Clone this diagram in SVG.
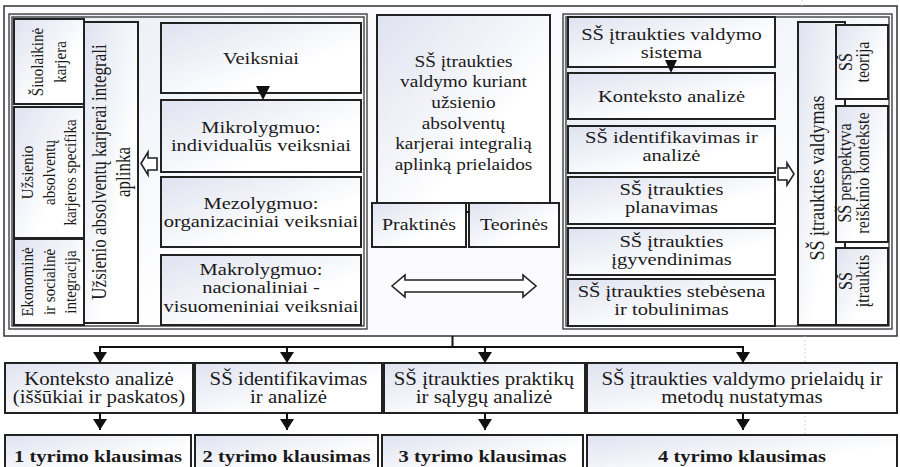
<svg xmlns="http://www.w3.org/2000/svg" width="900" height="467" viewBox="0 0 900 467">
<defs>
<linearGradient id="gb" x1="0" y1="0" x2="1" y2="1">
<stop offset="0" stop-color="#dfe2f0"/>
<stop offset="0.65" stop-color="#ffffff"/>
</linearGradient>
<linearGradient id="gp" x1="0" y1="0" x2="1" y2="1">
<stop offset="0" stop-color="#e9ebf5"/>
<stop offset="0.7" stop-color="#ffffff"/>
</linearGradient>
<marker id="ah" viewBox="0 0 11 14" refX="11" refY="7" markerWidth="11" markerHeight="14" markerUnits="userSpaceOnUse" orient="auto">
<path d="M0,0 L11,7 L0,14 z" fill="#111"/>
</marker>
</defs>
<style>
.box{fill:url(#gb);stroke:#222;stroke-width:2}
.pan{fill:url(#gp);stroke:#333;stroke-width:1.3}
.pin{fill:none;stroke:#333;stroke-width:1.3}
.frame{fill:#fbfbfd;stroke:#333;stroke-width:1.5}
text{font-family:"Liberation Serif","Times New Roman",serif;fill:#1a1a1a;text-anchor:middle}
.t{font-size:17.5px}
.tc{font-size:16.5px}
.tb{font-size:17.6px;font-weight:bold}
.tv{font-size:15px}
.tvs{font-size:16px}
.tvl{font-size:17px}
.tvr{font-size:18px}
.con{fill:none;stroke:#111;stroke-width:2}
.tri{fill:#111}
.hol{fill:#fff;stroke:#222;stroke-width:1.6;stroke-linejoin:miter}
</style>

<rect class="frame" x="4" y="6" width="893" height="330"/>
<g id="guide"><path d="M805,336 V435 M802,0 V6" stroke="#d6d6d6" stroke-width="1" stroke-dasharray="2 2" fill="none"/></g>

<g id="left-panel">
<rect class="pan" x="9" y="14" width="358" height="315"/>
<rect class="pin" x="12" y="17" width="352" height="309"/>
</g>
<g id="right-panel">
<rect class="pan" x="563" y="14" width="329" height="315"/>
<rect class="pin" x="566" y="17" width="323" height="309"/>
</g>

<g id="n-aplinka">
<rect class="box" x="84" y="22" width="54" height="301"/>
<text class="tvl" transform="translate(106,172) scale(1.17,1) rotate(-90)">Užsienio absolventų karjerai integrali</text>
<text class="tvl" transform="translate(130,172) scale(1.17,1) rotate(-90)">aplinka</text>
</g>
<g id="n-siuolaikine">
<rect class="box" x="14" y="19" width="70" height="85"/>
<text class="tv" transform="translate(43,62) scale(1.17,1) rotate(-90)">Šiuolaikinė</text>
<text class="tv" transform="translate(66,62) scale(1.17,1) rotate(-90)">karjera</text>
</g>
<g id="n-specifika">
<rect class="box" x="14" y="107" width="70" height="131"/>
<text class="tv" transform="translate(33,172.5) scale(1.17,1) rotate(-90)">Užsienio</text>
<text class="tv" transform="translate(55,172.5) scale(1.17,1) rotate(-90)">absolventų</text>
<text class="tv" transform="translate(76,172.5) scale(1.17,1) rotate(-90)">karjeros specifika</text>
</g>
<g id="n-integracija">
<rect class="box" x="14" y="239" width="70" height="86"/>
<text class="tv" transform="translate(33,282) scale(1.17,1) rotate(-90)">Ekonominė</text>
<text class="tv" transform="translate(55,282) scale(1.17,1) rotate(-90)">ir socialinė</text>
<text class="tv" transform="translate(76,282) scale(1.17,1) rotate(-90)">integracija</text>
</g>

<g id="n-veiksniai">
<rect class="box" x="161" y="23" width="200" height="70"/>
<text class="t" x="261" y="64" transform="matrix(1.17 0 0 1 -44.37 0)">Veiksniai</text>
</g>
<g id="n-mikro">
<rect class="box" x="161" y="100" width="200" height="72"/>
<text class="t" transform="matrix(1.17 0 0 1 -44.37 0)"><tspan x="261" y="133">Mikrolygmuo:</tspan><tspan x="261" y="151">individualūs veiksniai</tspan></text>
</g>
<g id="n-mezo">
<rect class="box" x="161" y="177" width="200" height="70"/>
<text class="t" transform="matrix(1.17 0 0 1 -44.37 0)"><tspan x="261" y="209">Mezolygmuo:</tspan><tspan x="261" y="227">organizaciniai veiksniai</tspan></text>
</g>
<g id="n-makro">
<rect class="box" x="161" y="255" width="200" height="70"/>
<text class="t" transform="matrix(1.17 0 0 1 -44.37 0)"><tspan x="261" y="275">Makrolygmuo:</tspan><tspan x="261" y="293.5">nacionaliniai -</tspan><tspan x="261" y="312">visuomeniniai veiksniai</tspan></text>
</g>

<g id="n-prielaidos">
<rect class="box" x="377" y="15" width="173" height="188"/>
<text class="tc" transform="matrix(1.17 0 0 1 -78.8 0)"><tspan x="463.5" y="67">SŠ įtraukties</tspan><tspan x="463.5" y="87.5">valdymo kuriant</tspan><tspan x="463.5" y="108">užsienio</tspan><tspan x="463.5" y="129">absolventų</tspan><tspan x="463.5" y="149.5">karjerai integralią</tspan><tspan x="463.5" y="170">aplinką prielaidos</tspan></text>
</g>
<g id="n-praktines">
<rect class="box" x="372" y="203" width="94" height="44"/>
<text class="t" x="419" y="230" transform="matrix(1.17 0 0 1 -71.23 0)" style="font-size:17px">Praktinės</text>
</g>
<g id="n-teorines">
<rect class="box" x="469" y="203" width="90" height="44"/>
<text class="t" x="514" y="230" transform="matrix(1.17 0 0 1 -87.38 0)" style="font-size:17px">Teorinės</text>
</g>

<g id="n-sistema">
<rect class="box" x="568" y="17" width="207" height="50"/>
<text class="t" transform="matrix(1.17 0 0 1 -114.16 0)"><tspan x="671.5" y="40">SŠ įtraukties valdymo</tspan><tspan x="671.5" y="58">sistema</tspan></text>
</g>
<g id="n-konteksto">
<rect class="box" x="568" y="73" width="207" height="46"/>
<text class="t" x="671.5" y="102" transform="matrix(1.17 0 0 1 -114.16 0)">Konteksto analizė</text>
</g>
<g id="n-identifikavimas">
<rect class="box" x="568" y="126" width="207" height="47"/>
<text class="t" transform="matrix(1.17 0 0 1 -114.16 0)"><tspan x="671.5" y="143">SŠ identifikavimas ir</tspan><tspan x="671.5" y="161">analizė</tspan></text>
</g>
<g id="n-planavimas">
<rect class="box" x="568" y="177" width="207" height="47"/>
<text class="t" transform="matrix(1.17 0 0 1 -114.16 0)"><tspan x="671.5" y="195">SŠ įtraukties</tspan><tspan x="671.5" y="213">planavimas</tspan></text>
</g>
<g id="n-igyvendinimas">
<rect class="box" x="568" y="228" width="207" height="47"/>
<text class="t" transform="matrix(1.17 0 0 1 -114.16 0)"><tspan x="671.5" y="247">SŠ įtraukties</tspan><tspan x="671.5" y="265.5">įgyvendinimas</tspan></text>
</g>
<g id="n-stebesena">
<rect class="box" x="568" y="279" width="207" height="47"/>
<text class="t" transform="matrix(1.17 0 0 1 -114.16 0)"><tspan x="671.5" y="297">SŠ įtraukties stebėsena</tspan><tspan x="671.5" y="315">ir tobulinimas</tspan></text>
</g>

<g id="n-valdymas">
<rect class="box" x="798" y="22" width="47" height="303"/>
<text class="tvr" transform="translate(824,178) scale(1.17,1) rotate(-90)">SŠ įtraukties valdymas</text>
</g>
<g id="n-teorija">
<rect class="box" x="836" y="25" width="52" height="74"/>
<text class="tvs" transform="translate(852,62) scale(1.17,1) rotate(-90)">SŠ</text>
<text class="tvs" transform="translate(869,62) scale(1.17,1) rotate(-90)">teorija</text>
</g>
<g id="n-perspektyva">
<rect class="box" x="836" y="106" width="52" height="136"/>
<text class="tvs" transform="translate(851,173) scale(1.17,1) rotate(-90)">SŠ perspektyva</text>
<text class="tvs" transform="translate(869,173) scale(1.17,1) rotate(-90)">reiškinio kontekste</text>
</g>
<g id="n-itrauktis">
<rect class="box" x="836" y="248" width="52" height="77"/>
<text class="tvs" transform="translate(852,281) scale(1.17,1) rotate(-90)">SŠ</text>
<text class="tvs" transform="translate(869,281) scale(1.17,1) rotate(-90)">įtrauktis</text>
</g>

<g id="n-b1">
<rect class="box" x="5" y="363" width="188" height="50"/>
<text class="t" style="font-size:17.8px" transform="matrix(1.17 0 0 1 -16.83 0)"><tspan x="99" y="385">Konteksto analizė</tspan><tspan x="99" y="403">(iššūkiai ir paskatos)</tspan></text>
</g>
<g id="n-b2">
<rect class="box" x="195" y="363" width="187" height="50"/>
<text class="t" style="font-size:17.8px" transform="matrix(1.17 0 0 1 -49.05 0)"><tspan x="288.5" y="385">SŠ identifikavimas</tspan><tspan x="288.5" y="403">ir analizė</tspan></text>
</g>
<g id="n-b3">
<rect class="box" x="384" y="363" width="201" height="50"/>
<text class="t" style="font-size:17.8px" transform="matrix(1.17 0 0 1 -82.28 0)"><tspan x="484" y="385">SŠ įtraukties praktikų</tspan><tspan x="484" y="403">ir sąlygų analizė</tspan></text>
</g>
<g id="n-b4">
<rect class="box" x="587" y="363" width="310" height="50"/>
<text class="t" style="font-size:17.8px" transform="matrix(1.17 0 0 1 -126.14 0)"><tspan x="742" y="385">SŠ įtraukties valdymo prielaidų ir</tspan><tspan x="742" y="403">metodų nustatymas</tspan></text>
</g>
<g id="n-q1">
<rect class="box" x="5" y="435" width="186" height="40"/>
<text class="tb" x="98" y="462" transform="matrix(1.17 0 0 1 -16.66 0)">1 tyrimo klausimas</text>
</g>
<g id="n-q2">
<rect class="box" x="195" y="435" width="183" height="40"/>
<text class="tb" x="286.5" y="462" transform="matrix(1.17 0 0 1 -48.7 0)">2 tyrimo klausimas</text>
</g>
<g id="n-q3">
<rect class="box" x="382" y="435" width="201" height="40"/>
<text class="tb" x="482.5" y="462" transform="matrix(1.17 0 0 1 -82.03 0)">3 tyrimo klausimas</text>
</g>
<g id="n-q4">
<rect class="box" x="587" y="435" width="310" height="40"/>
<text class="tb" x="742" y="462" transform="matrix(1.17 0 0 1 -126.14 0)">4 tyrimo klausimas</text>
</g>

<g id="connectors">
<polygon class="tri" points="256,86 270,86 263,100"/>
<polygon class="tri" points="665,60 677,60 671,73"/>
<path class="con" d="M466,212 H469"/>
<polygon class="hol" points="141,163.5 148,152 148,158 157,158 157,170 148,170 148,175"/>
<polygon class="hol" points="778,168 787,168 787,163 794,174 787,185 787,180 778,180"/>
<polygon class="hol" points="392,286 405,275 405,280 523,280 523,275 536,286 523,297 523,292 405,292 405,297"/>
<path class="con" d="M452.5,336 V347 M99,347 H744"/>
<path class="con" d="M100,347 V363" marker-end="url(#ah)"/>
<path class="con" d="M287,347 V363" marker-end="url(#ah)"/>
<path class="con" d="M485,347 V363" marker-end="url(#ah)"/>
<path class="con" d="M743,347 V363" marker-end="url(#ah)"/>
<path class="con" d="M100,413 V430" marker-end="url(#ah)"/>
<path class="con" d="M287,413 V430" marker-end="url(#ah)"/>
<path class="con" d="M485,413 V430" marker-end="url(#ah)"/>
<path class="con" d="M743,413 V430" marker-end="url(#ah)"/>
</g>
</svg>
